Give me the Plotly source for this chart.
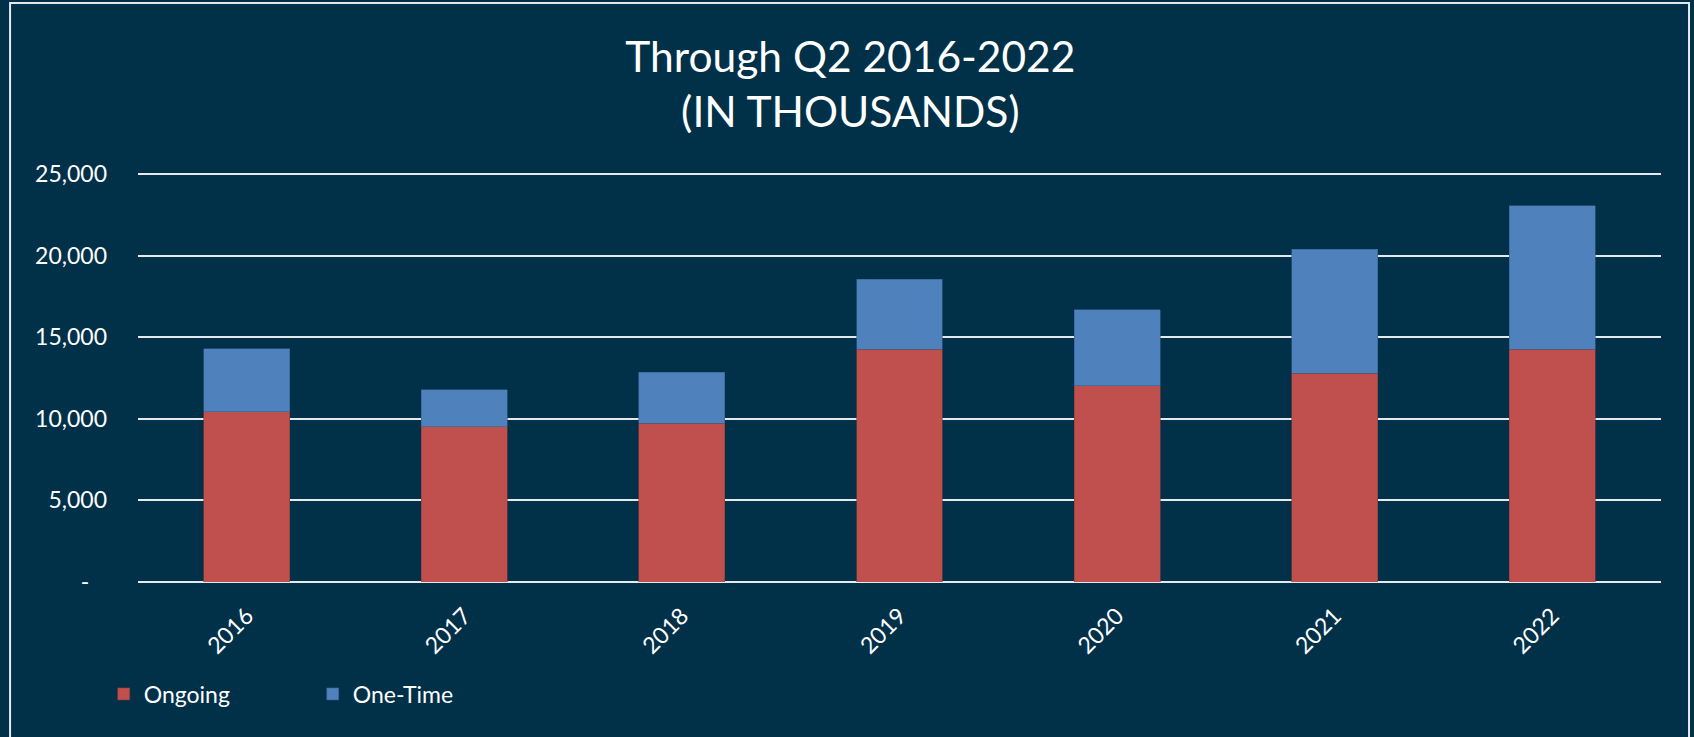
import plotly.graph_objects as go

years = ["2016", "2017", "2018", "2019", "2020", "2021", "2022"]
ongoing = [10440, 9520, 9720, 14260, 12030, 12790, 14260]
one_time = [3840, 2260, 3130, 4290, 4640, 7600, 8780]
y_tick_vals = [0, 5000, 10000, 15000, 20000, 25000]
y_tick_text = ["-\u00a0\u00a0\u00a0", "5,000", "10,000", "15,000", "20,000", "25,000"]

BG = "#013049"
FONT = "Lato"

fig = go.Figure()
fig.add_trace(go.Bar(
    x=years, y=ongoing, name="Ongoing",
    marker=dict(color="#C0504D", line=dict(color="#8a3a3a", width=0.6)),
))
fig.add_trace(go.Bar(
    x=years, y=one_time, name="One-Time",
    marker=dict(color="#4F81BD", line=dict(color="#35628f", width=0.6)),
))

fig.update_layout(
    width=1694, height=737,
    barmode="stack", bargap=0.605,
    paper_bgcolor=BG, plot_bgcolor=BG,
    margin=dict(l=138, r=33, t=172, b=155),
    font=dict(family=FONT, color="white", size=23),
    title=dict(
        text="Through Q2 2016-2022<br>(IN THOUSANDS)",
        font=dict(family=FONT, size=42.5, color="white"),
        x=0.502, xanchor="center", xref="container",
        y=0.902, yanchor="middle", yref="container",
    ),
    legend=dict(
        orientation="h", x=-0.0225, xanchor="left",
        y=-0.273, yanchor="middle",
        font=dict(family=FONT, size=23, color="white"),
        entrywidth=164, traceorder="normal",
        bgcolor="rgba(0,0,0,0)",
    ),
    showlegend=True,
)

fig.update_xaxes(
    type="category", tickangle=-45, showgrid=False, showline=False,
    tickfont=dict(family=FONT, size=23, color="white"),
    ticks="", ticklabelstandoff=15,
)
fig.update_yaxes(
    range=[0, 25122], tickvals=y_tick_vals, ticktext=y_tick_text,
    showgrid=True, gridcolor="#e6e9ec", gridwidth=1.6,
    zeroline=True, zerolinecolor="#e6e9ec", zerolinewidth=1.6,
    showline=False, ticks="", ticklabelstandoff=30,
    tickfont=dict(family=FONT, size=23, color="white"),
)

fig.add_shape(
    type="rect", xref="paper", yref="paper",
    x0=-0.084, x1=1.0184, y0=-0.45, y1=1.412,
    line=dict(color="#e4eaef", width=2), fillcolor="rgba(0,0,0,0)",
    layer="below",
)

fig.write_html(
    "out.html",
    config={"displayModeBar": False},
    post_script="document.body.style.margin='0';"
                "document.body.style.background='" + BG + "';"
                "document.body.style.overflow='hidden';",
)
